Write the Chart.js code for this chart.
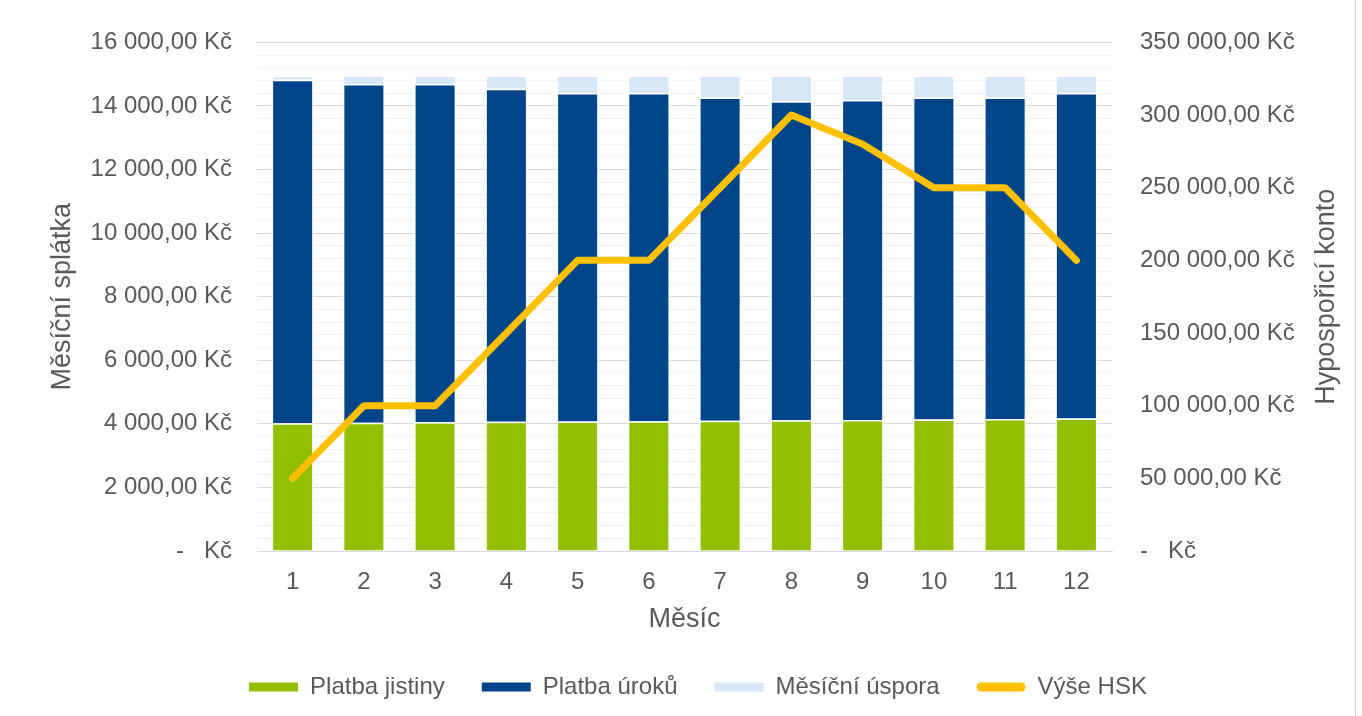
<!DOCTYPE html>
<html lang="cs">

<head>
    <meta charset="UTF-8">
    <title>Hypospořicí konto</title>
    <script src="https://cdn.jsdelivr.net/npm/chart.js@4.4.0/dist/chart.umd.min.js"></script>
    <style>
        body { margin: 0; background: #fff; }
        .wrap { width: 1355px; height: 716px; border-right: 1px solid #d9d9d9; }
    </style>
</head>

<body>
    <div class="wrap">
        <canvas id="myChart"></canvas>
    </div>
<script>
    // data
    const months = ['1', '2', '3', '4', '5', '6', '7', '8', '9', '10', '11', '12']
    const jistina = [4020, 4035, 4050, 4065, 4075, 4085, 4095, 4110, 4125, 4140, 4155, 4170]
    const uroky = [10805, 10655, 10640, 10480, 10335, 10325, 10175, 10035, 10065, 10130, 10115, 10240]
    const uspora = [135, 270, 270, 415, 550, 550, 690, 815, 770, 690, 690, 550]
    const hsk = [50000, 100000, 100000, 150000, 200000, 200000, 250000, 300000, 280000, 250000, 250000, 200000]

    const colors = ['#92c000', '#00458a', '#d6e7f8', '#ffc000']
    const textColor = '#595959'
    const font = 'Liberation Sans, Arial, sans-serif'

    function kc(v) {
        if (v === 0) return '-\u00a0\u00a0\u00a0Kč'
        let s = Math.round(v).toString().replace(/\B(?=(\d{3})+(?!\d))/g, '\u00a0')
        return s + ',00\u00a0Kč'
    }

    // right axis title reads bottom-to-top like the left one
    const rightTitle = {
        id: 'rightTitle',
        afterDraw(chart) {
            let c = chart.ctx
            let area = chart.chartArea
            c.save()
            c.translate(1327, (area.top + area.bottom) / 2)
            c.rotate(-Math.PI / 2)
            c.font = '27px ' + font
            c.fillStyle = textColor
            c.textAlign = 'center'
            c.textBaseline = 'middle'
            c.fillText('Hypospořicí konto', 0, 0)
            c.restore()
        }
    }

    let bar = (label, data, i) => ({
        type: 'bar',
        label: label,
        data: data,
        backgroundColor: colors[i],
        borderColor: '#ffffff',
        borderWidth: 1.5,
        borderSkipped: 'start',
        yAxisID: 'y',
        order: 1
    })

    let ctx = document.getElementById('myChart')
    let chart = new Chart(ctx, {
        data: {
            labels: months,
            datasets: [
                bar('Platba jistiny', jistina, 0),
                bar('Platba úroků', uroky, 1),
                bar('Měsíční úspora', uspora, 2),
                {
                    type: 'line',
                    label: 'Výše HSK',
                    data: hsk,
                    borderColor: colors[3],
                    backgroundColor: colors[3],
                    borderWidth: 7,
                    borderJoinStyle: 'round',
                    borderCapStyle: 'round',
                    pointRadius: 0,
                    tension: 0,
                    yAxisID: 'y1',
                    order: 0
                }
            ]
        },
        plugins: [rightTitle],
        options: {
            responsive: true,
            maintainAspectRatio: false,
            animation: false,
            layout: { padding: { left: 41, right: 0, top: 33, bottom: 7 } },
            datasets: {
                bar: { categoryPercentage: 1, barPercentage: 0.59 }
            },
            plugins: {
                tooltip: { enabled: false },
                legend: {
                    position: 'bottom',
                    labels: {
                        color: textColor,
                        font: { family: font, size: 24 },
                        boxWidth: 49,
                        boxHeight: 9,
                        padding: 37,
                        useBorderRadius: true,
                        sort: (a, b) => a.datasetIndex - b.datasetIndex,
                        generateLabels(chart) {
                            let items = Chart.defaults.plugins.legend.labels.generateLabels(chart)
                            items.forEach(it => {
                                it.fillStyle = colors[it.datasetIndex]
                                it.strokeStyle = colors[it.datasetIndex]
                                it.lineWidth = 0
                                it.borderRadius = it.datasetIndex === 3 ? 4.5 : 0
                            })
                            return items
                        }
                    }
                }
            },
            scales: {
                x: {
                    stacked: true,
                    afterFit: s => { s.height = 87 },
                    grid: { display: false, drawTicks: false },
                    border: { color: '#d9d9d9' },
                    ticks: { color: textColor, font: { family: font, size: 24 }, padding: 17 },
                    title: {
                        display: true,
                        text: 'Měsíc',
                        color: textColor,
                        font: { family: font, size: 27 },
                        padding: { top: 0, bottom: 2 }
                    }
                },
                y: {
                    stacked: true,
                    position: 'left',
                    min: 0,
                    max: 16000,
                    afterFit: s => { s.width = 216 },
                    border: { display: false },
                    grid: {
                        drawTicks: false,
                        color: c => c.tick.value % 2000 === 0 ? '#d9d9d9' : '#f2f2f2'
                    },
                    ticks: {
                        stepSize: 400,
                        autoSkip: false,
                        padding: 25,
                        color: textColor,
                        font: { family: font, size: 24 },
                        callback: v => v % 2000 === 0 ? kc(v) : ''
                    },
                    title: {
                        display: true,
                        text: 'Měsíční splátka',
                        color: textColor,
                        font: { family: font, size: 27 },
                        padding: { top: 5, bottom: 0 }
                    }
                },
                y1: {
                    position: 'right',
                    min: 0,
                    max: 350000,
                    afterFit: s => { s.width = 243 },
                    border: { display: false },
                    grid: { drawOnChartArea: false, drawTicks: false },
                    ticks: {
                        stepSize: 50000,
                        padding: 28,
                        color: textColor,
                        font: { family: font, size: 24 },
                        callback: v => kc(v)
                    }
                }
            }
        }
    })
</script>
</body>

</html>
